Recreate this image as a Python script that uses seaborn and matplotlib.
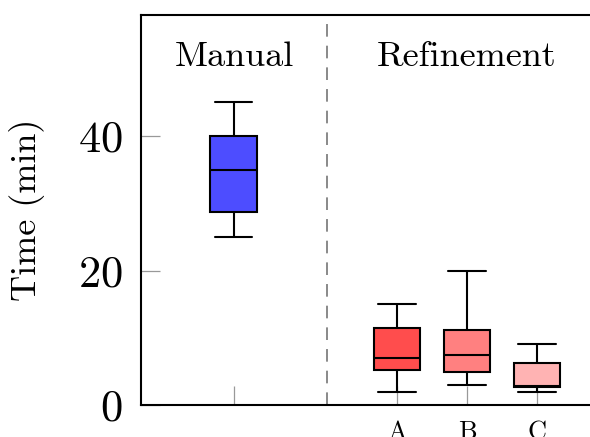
import matplotlib
matplotlib.use("Agg")
import matplotlib.pyplot as plt
import seaborn as sns
import pandas as pd

# five-number summaries: low whisker, Q1, median, Q3, high whisker
groups = ["Manual", "A", "B", "C"]
manual_times = [25, 28.7, 35, 40, 45]
a_times = [2, 5.2, 7, 11.45, 15]
b_times = [3, 4.9, 7.4, 11.2, 20]
c_times = [2, 2.7, 2.9, 6.2, 9]
tick_labels = ["", "A", "B", "C"]
colors = ["#4d4dff", "#ff4d4d", "#ff8080", "#ffb3b3"]

# layout (x positions in axis units)
positions = [1.67, 4, 5, 6]
divider_x = 3.0

sns.set_style("ticks")
plt.rcParams["font.family"] = ["cmr10", "DejaVu Serif"]
plt.rcParams["axes.formatter.use_mathtext"] = True
plt.rcParams["mathtext.fontset"] = "cm"
plt.rcParams["text.color"] = "black"
plt.rcParams["axes.labelcolor"] = "black"
plt.rcParams["xtick.labelcolor"] = "black"
plt.rcParams["ytick.labelcolor"] = "black"

rows = []
for g, pos, vals in zip(groups, positions, [manual_times, a_times, b_times, c_times]):
    for v in vals:
        rows.append({"group": g, "pos": pos, "time": v})
df = pd.DataFrame(rows)

fig = plt.figure(figsize=(5.9, 4.37), dpi=100)
ax = fig.add_axes([141 / 590, 32 / 437, 455 / 590, 390 / 437])

sns.boxplot(data=df, x="pos", y="time", hue="group", palette=colors,
            native_scale=True, dodge=False, width=0.67, whis=(0, 100),
            linecolor="black", linewidth=1.5, saturation=1, legend=False,
            capwidths=0.53, ax=ax)

ax.axvline(divider_x, color="#808080", lw=1.3, dashes=(7, 5), zorder=0)

ax.set_xlim(0.343, 4 + (596 - 397) / 70)
ax.set_ylim(0, 58)
ax.set_yticks([0, 20, 40])
ax.set_xticks(positions)
ax.set_xticklabels(tick_labels)
ax.tick_params(axis="y", direction="in", length=14, width=0.9, color="#999999",
               labelsize=32, pad=13, labelcolor="black")
ax.tick_params(axis="x", direction="in", length=14, width=0.9, color="#999999",
               labelsize=19, pad=11, labelcolor="black")
for t in ax.get_xticklines() + ax.get_yticklines():
    t.set_zorder(0)

ax.set_xlabel("")
ax.set_ylabel("Time (min)", fontsize=26, color="black")
ax.yaxis.set_label_coords(-0.21, 0.5)

for side in ["left", "bottom", "top"]:
    ax.spines[side].set_linewidth(1.5)
    ax.spines[side].set_color("black")
ax.spines["right"].set_visible(False)

ax.text(positions[0], 51.7, "Manual", fontsize=26, ha="center", va="center", color="black")
ax.text(positions[2], 51.7, "Refinement", fontsize=26, ha="center", va="center", color="black")

fig.savefig("out.png", dpi=100)
